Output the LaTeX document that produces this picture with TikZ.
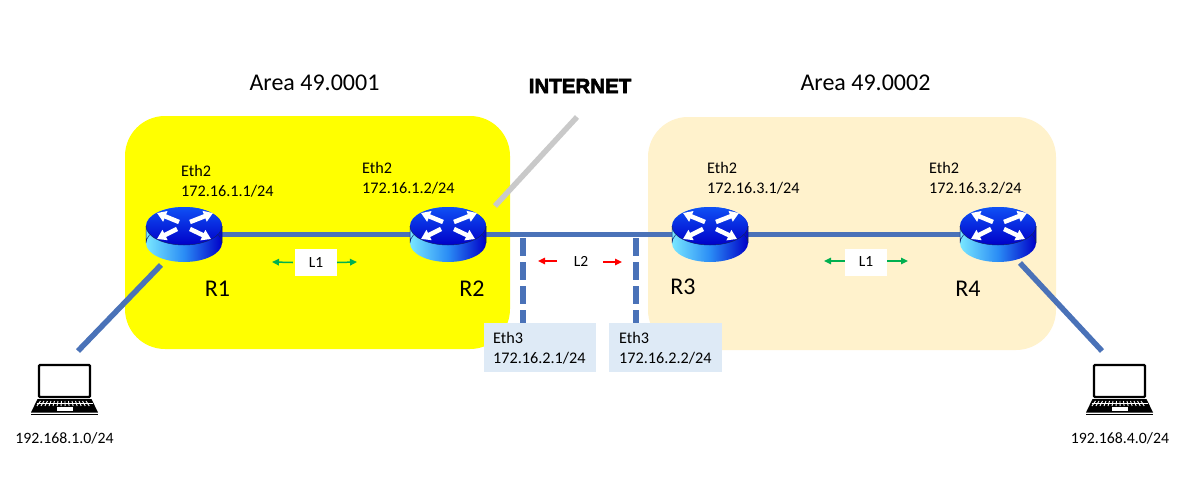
\documentclass[tikz,border=0pt]{standalone}
\usepackage{fontspec}
\setmainfont{Carlito}
\newfontfamily\heavy[FakeBold=3]{Liberation Sans}
\usetikzlibrary{arrows.meta}
\definecolor{linkblue}{HTML}{4A72B8}
\definecolor{areaA}{HTML}{FFFF00}
\definecolor{areaB}{HTML}{FFF2CC}
\definecolor{ethbox}{HTML}{DEEAF6}
\definecolor{arrgreen}{HTML}{00B050}
\definecolor{arrred}{HTML}{FF0000}
\definecolor{netgray}{HTML}{C9C9C9}
\definecolor{rtop}{HTML}{0F50F5}
\definecolor{rdark}{HTML}{0000C8}
\definecolor{rcyan}{HTML}{78E6FF}
\definecolor{rmid}{HTML}{2A8CF5}
\definecolor{redge}{HTML}{10206A}
\tikzset{
  x=1pt,y=-1pt,
  areabox/.style={rounded corners=40pt,draw=none},
  link/.style={draw=linkblue,line width=5.5pt},
  dashlink/.style={draw=linkblue,line width=5.5pt,dash pattern=on 18pt off 6pt},
  rtr/.style={minimum width=76pt,minimum height=55pt,inner sep=0pt,draw=none},
  titletxt/.style={font=\fontsize{24}{28}\selectfont,inner sep=0pt},
  rname/.style={font=\fontsize{24}{28}\selectfont,inner sep=0pt},
  iflabel/.style={font=\fontsize{16.2}{20}\selectfont,align=left,anchor=west,inner sep=0pt},
  lbox/.style={fill=white,font=\fontsize{15.5}{18}\selectfont,inner sep=0pt,minimum width=42pt,minimum height=27pt},
  garrow/.style={draw=arrgreen,line width=1.5pt,-{Triangle[length=7pt,width=6.5pt]}},
  rarrow/.style={draw=arrred,line width=1.5pt,-{Triangle[length=7pt,width=6.5pt]}},
  warrow/.style={draw=white,line width=4.5pt,-{Triangle[length=9pt,width=11pt]}},
  hosttxt/.style={font=\fontsize{15.8}{18}\selectfont,inner sep=0pt},
  pics/router/.style={code={
    \path[left color=rcyan,right color=rdark,middle color=rmid]
      (-38,0) arc[start angle=180,end angle=360,x radius=38,y radius=19]
      -- (38,17) arc[start angle=0,end angle=-180,x radius=38,y radius=-19] -- cycle;
    \draw[redge,line width=.5pt]
      (-38,0) -- (-38,17) arc[start angle=180,end angle=0,x radius=38,y radius=-19] -- (38,0);
    \path[top color=rtop,bottom color=rdark]
      (0,0) ellipse[x radius=38,y radius=19];
    \draw[redge,line width=.5pt] (-38,0) arc[start angle=180,end angle=360,x radius=38,y radius=-19];
    \draw[warrow] (-5,-4) -- (-27,-13);
    \draw[warrow] (6,-4) -- (29,-13);
    \draw[warrow] (-7,3) -- (-27,13);
    \draw[warrow] (6,3) -- (27,13);
  }},
  pics/laptop/.style={code={
    \draw[black,line width=2.2pt,fill=white,rounded corners=1pt] (-25.5,-35) rectangle (25.5,-3);
    \fill[black] (-27,-1) -- (27,-1) -- (33.5,12.5) -- (-33.5,12.5) -- cycle;
    \foreach \i in {-24,-20.5,...,24}{
      \draw[white,line width=.9pt] (\i,1) -- (\i*1.15,6);
    }
    \draw[white,line width=.8pt] (-28,3.5) -- (28,3.5);
    \fill[white] (-8,7) rectangle (8,11);
    \fill[black] (-33.5,13.5) rectangle (33.5,14.5);
  }}
}
\begin{document}
\begin{tikzpicture}
\useasboundingbox (0,0) rectangle (1179,495);
\fill[white] (0,0) rectangle (1179,495);
\fill[areaA,areabox] (125,116) rectangle (510,349);
\fill[areaB,areabox] (648,117) rectangle (1056,350);
\node[titletxt] (a1) at (314.5,83) {Area 49.0001};
\node[titletxt] (a2) at (865.5,83) {Area 49.0002};
\node[inner sep=0pt,font=\heavy\bfseries\fontsize{20.5}{24}\selectfont] (inet) at (580,86) {INTERNET};
\node[rtr] (r1) at (184,234.5) {};
\node[rtr] (r2) at (448,234.5) {};
\node[rtr] (r3) at (710,234.5) {};
\node[rtr] (r4) at (998,234.5) {};
\coordinate (h1end) at (78,351);
\coordinate (h4end) at (1102,351);
\coordinate (inetend) at (577,117);
\coordinate (d1top) at (523,238);
\coordinate (d2top) at (636,238);
\fill[ethbox] (484,323) rectangle (596,372);
\fill[ethbox] (609,323) rectangle (722,372);
\node[iflabel] (e3a) at (493,348) {Eth3\\172.16.2.1/24};
\node[iflabel] (e3b) at (619,348) {Eth3\\172.16.2.2/24};
\coordinate (d1bot) at (523,323);
\coordinate (d2bot) at (636,323);
\draw[link] (r1.center) -- (r2.center);
\draw[link] (r2.center) -- (r3.center);
\draw[link] (r3.center) -- (r4.center);
\draw[dashlink] (d1top) -- (d1bot);
\draw[dashlink] (d2top) -- (d2bot);
\draw[draw=netgray,line width=5.5pt] (inetend) -- (495,206);
\draw[link] (161,265) -- (h1end);
\draw[link] (1020,263) -- (h4end);
\pic at (184,226) {router};
\pic at (448,226) {router};
\pic at (710,226) {router};
\pic at (998,226) {router};
\node[iflabel] (i1) at (181,181) {Eth2\\172.16.1.1/24};
\node[iflabel] (i2) at (362,178) {Eth2\\172.16.1.2/24};
\node[iflabel] (i3) at (707,178.5) {Eth2\\172.16.3.1/24};
\node[iflabel] (i4) at (929,178.5) {Eth2\\172.16.3.2/24};
\node[rname] (n1) at (217.5,289) {R1};
\node[rname] (n2) at (472,289) {R2};
\node[rname] (n3) at (683,287) {R3};
\node[rname] (n4) at (968,289) {R4};
\node[lbox] (l1a) at (316,262.5) {L1};
\node[lbox] (l1b) at (866,262) {L1};
\node[inner sep=0pt,font=\fontsize{15.5}{18}\selectfont] (l2) at (581,261) {L2};
\coordinate (ga1) at (272,262); \coordinate (ga2) at (357,262);
\coordinate (gb1) at (824,261); \coordinate (gb2) at (908,261);
\coordinate (ra1) at (538,261); \coordinate (ra2) at (622,262);
\draw[garrow] (l1a.west) ++(-2,0) -- (ga1);
\draw[garrow] (l1a.east) ++(0,0) -- (ga2);
\draw[garrow] (l1b.west) ++(-0,-1) -- (gb1);
\draw[garrow] (l1b.east) ++(0,-1) -- (gb2);
\draw[rarrow] (557,261) -- (ra1);
\draw[rarrow] (603,262) -- (ra2);
\pic at (64.5,400) {laptop};
\pic at (1119.5,400) {laptop};
\node[hosttxt] (p1) at (64.5,438) {192.168.1.0/24};
\node[hosttxt] (p4) at (1120,438) {192.168.4.0/24};
\end{tikzpicture}
\end{document}
